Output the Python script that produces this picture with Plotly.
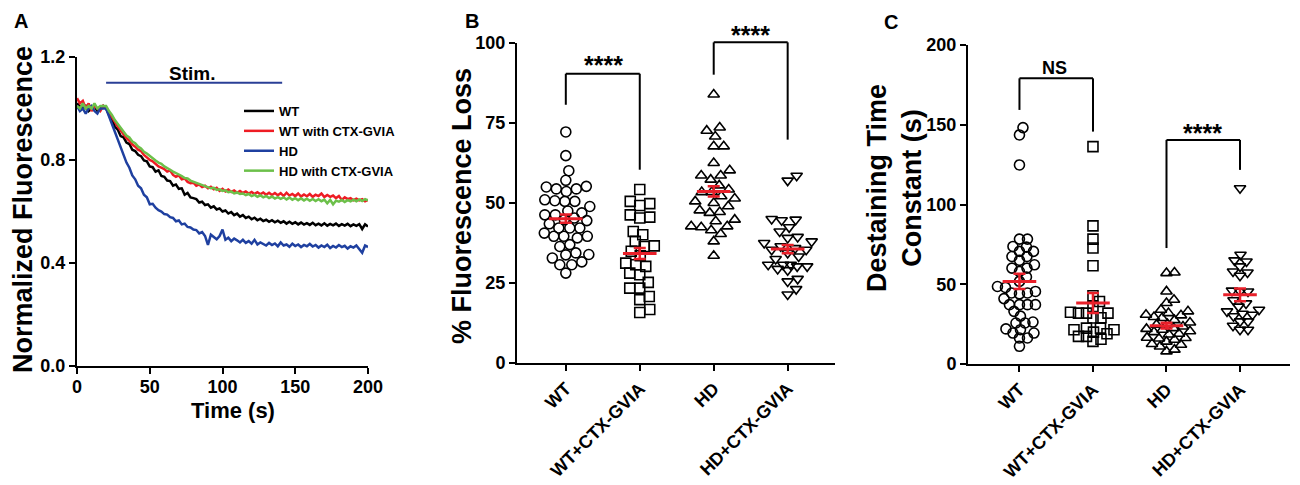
import numpy as np
import plotly.graph_objects as go

# page has an 8 px body margin, so the figure is drawn 8 px smaller each way
PAGE_OFF = 8
W, H = 1300 - PAGE_OFF, 485 - PAGE_OFF
FONT = "Liberation Sans, Arial, sans-serif"

# ---------------------------------------------------------------------------
# Panel A - normalized fluorescence, sampled every 2 s
time_s = list(range(0, 201, 2))

wt_trace = [1.02, 1.01, 1.00, 1.01, 0.99, 1.00, 1.01, 0.99, 1.00, 1.01, 1.00,
            0.975, 0.958, 0.93, 0.918, 0.893, 0.888, 0.868, 0.862, 0.84, 0.835,
            0.82, 0.815, 0.798, 0.795, 0.775, 0.772, 0.755, 0.76, 0.738, 0.735,
            0.72, 0.718, 0.70, 0.705, 0.688, 0.69, 0.665, 0.672, 0.655, 0.652,
            0.648, 0.635, 0.638, 0.625, 0.628, 0.615, 0.62, 0.608, 0.612, 0.60,
            0.604, 0.592, 0.598, 0.586, 0.592, 0.58, 0.586, 0.575, 0.58, 0.57,
            0.576, 0.566, 0.572, 0.563, 0.568, 0.56, 0.566, 0.558, 0.564, 0.556,
            0.562, 0.553, 0.56, 0.552, 0.558, 0.55, 0.557, 0.549, 0.555, 0.548,
            0.556, 0.547, 0.553, 0.546, 0.554, 0.545, 0.552, 0.546, 0.553, 0.544,
            0.551, 0.545, 0.552, 0.543, 0.55, 0.544, 0.551, 0.532, 0.55, 0.542]

wt_ctx_trace = [1.04, 1.02, 1.03, 1.00, 1.02, 0.99, 1.01, 1.00, 0.99, 1.01, 1.00,
                0.985, 0.965, 0.945, 0.93, 0.915, 0.90, 0.885, 0.875, 0.86, 0.852,
                0.84, 0.835, 0.82, 0.81, 0.80, 0.795, 0.785, 0.775, 0.77, 0.765,
                0.755, 0.76, 0.742, 0.735, 0.74, 0.725, 0.728, 0.715, 0.71, 0.712,
                0.70, 0.705, 0.695, 0.70, 0.69, 0.696, 0.686, 0.692, 0.68, 0.688,
                0.678, 0.685, 0.676, 0.682, 0.673, 0.68, 0.672, 0.678, 0.67, 0.676,
                0.668, 0.675, 0.667, 0.674, 0.665, 0.673, 0.664, 0.672, 0.663, 0.671,
                0.66, 0.673, 0.662, 0.668, 0.66, 0.67, 0.658, 0.666, 0.659, 0.668,
                0.657, 0.665, 0.66, 0.67, 0.656, 0.664, 0.657, 0.662, 0.652, 0.66,
                0.645, 0.655, 0.648, 0.652, 0.644, 0.65, 0.643, 0.648, 0.64, 0.645]

hd_trace = [1.01, 0.99, 1.00, 0.98, 1.00, 1.01, 0.99, 0.98, 1.00, 1.00, 1.00,
            0.97, 0.94, 0.905, 0.875, 0.85, 0.815, 0.79, 0.77, 0.74, 0.725,
            0.70, 0.69, 0.665, 0.655, 0.628, 0.63, 0.615, 0.605, 0.60, 0.59,
            0.588, 0.578, 0.575, 0.562, 0.565, 0.55, 0.553, 0.54, 0.538, 0.53,
            0.528, 0.515, 0.52, 0.505, 0.47, 0.51, 0.50, 0.492, 0.505, 0.53,
            0.49, 0.498, 0.485, 0.495, 0.488, 0.48, 0.49, 0.478, 0.485, 0.475,
            0.49, 0.472, 0.48, 0.474, 0.468, 0.478, 0.47, 0.476, 0.465, 0.48,
            0.468, 0.472, 0.463, 0.475, 0.466, 0.472, 0.462, 0.47, 0.465, 0.474,
            0.464, 0.47, 0.46, 0.468, 0.462, 0.471, 0.458, 0.466, 0.46, 0.47,
            0.462, 0.467, 0.456, 0.465, 0.46, 0.468, 0.455, 0.44, 0.468, 0.462]

hd_ctx_trace = [1.01, 1.00, 1.02, 1.00, 1.01, 1.00, 1.02, 1.00, 1.01, 1.01, 1.01,
                0.99, 0.975, 0.955, 0.94, 0.925, 0.91, 0.895, 0.888, 0.872, 0.865,
                0.852, 0.845, 0.832, 0.825, 0.815, 0.805, 0.798, 0.79, 0.785, 0.775,
                0.77, 0.762, 0.755, 0.75, 0.742, 0.738, 0.73, 0.728, 0.72, 0.716,
                0.712, 0.706, 0.704, 0.698, 0.696, 0.69, 0.692, 0.684, 0.686, 0.68,
                0.682, 0.675, 0.678, 0.67, 0.674, 0.668, 0.67, 0.664, 0.668, 0.66,
                0.665, 0.657, 0.663, 0.655, 0.66, 0.652, 0.658, 0.65, 0.656, 0.649,
                0.655, 0.647, 0.654, 0.646, 0.652, 0.644, 0.651, 0.643, 0.65, 0.642,
                0.649, 0.641, 0.648, 0.64, 0.646, 0.632, 0.645, 0.628, 0.642, 0.638,
                0.645, 0.637, 0.644, 0.639, 0.646, 0.64, 0.647, 0.641, 0.648, 0.643]

trace_names = ["WT", "WT with CTX-GVIA", "HD", "HD with CTX-GVIA"]
trace_colors = ["#000000", "#ee1c24", "#1f40a0", "#6cc04a"]

# ---------------------------------------------------------------------------
# Panel B - % fluorescence loss
groups = ["WT", "WT+CTX-GVIA", "HD", "HD+CTX-GVIA"]

loss_wt = [72.2, 64.8, 60.1, 57.1, 55.2, 54.4, 53.6, 54.4, 55.0, 51.0, 50.5, 50.5,
           50.7, 48.9, 45.3, 46.3, 46.3, 44.8, 46.9, 42.2, 42.2, 42.2, 40.6, 39.6,
           39.6, 39.1, 39.6, 37.0, 36.4, 34.4, 33.8, 33.9, 32.8, 30.7, 30.7, 31.6,
           28.1, 44.5, 47.5, 43.5]
loss_wt_ctx = [54.2, 50.5, 49.2, 45.3, 46.3, 45.6, 41.1, 40.1, 38.0, 36.6, 33.5,
               34.9, 36.4, 31.2, 30.7, 30.2, 28.1, 27.6, 25.2, 23.4, 23.4, 20.8,
               19.8, 15.8, 16.7, 49.8]
loss_hd = [83.9, 70.8, 73.6, 72.6, 67.7, 67.7, 62.5, 58.6, 60.2, 58.6, 57.3, 53.4,
           54.2, 53.4, 52.1, 51.4, 50.5, 50.0, 47.2, 46.9, 47.7, 44.8, 44.3, 42.7,
           42.4, 42.7, 41.5, 40.3, 38.0, 33.5, 55.5, 49.0]
loss_hd_ctx = [58.5, 57.0, 45.0, 44.6, 44.8, 41.1, 42.4, 39.1, 39.4, 38.0, 37.5,
               35.4, 35.4, 35.9, 34.4, 33.3, 30.7, 30.2, 30.7, 30.2, 30.7, 29.0,
               29.4, 25.5, 26.3, 23.1, 21.4, 36.5, 32.5]
loss_mean = [45.1, 34.2, 53.6, 35.6]
loss_sem = [1.3, 1.7, 1.6, 1.3]

# ---------------------------------------------------------------------------
# Panel C - destaining time constant (s)
tau_wt = [143.6, 148.2, 124.8, 78.3, 78.3, 73.3, 73.7, 70.6, 67.4, 67.4, 70.6,
          60.1, 62.2, 60.1, 54.5, 45.5, 44.5, 44.5, 48.6, 37.2, 37.2, 33.0, 37.2,
          37.2, 25.7, 25.7, 26.3, 19.4, 16.3, 21.5, 16.3, 19.4, 11.1, 51.8, 48.0,
          41.0, 58.0, 30.0, 22.0, 65.0, 44.0]
tau_wt_ctx = [136.3, 86.6, 78.3, 72.7, 61.6, 42.8, 39.2, 31.9, 31.9, 32.4, 28.8,
              31.9, 22.5, 21.5, 22.5, 21.5, 17.3, 17.3, 14.2, 36.0, 29.0, 19.0,
              15.5, 20.0]
tau_hd = [57.0, 57.4, 45.5, 40.3, 38.2, 31.9, 30.5, 30.9, 28.8, 27.5, 26.0, 24.6,
          25.0, 21.5, 20.5, 22.0, 22.5, 16.3, 15.2, 16.5, 16.0, 12.1, 12.5, 9.0,
          7.9, 34.0, 29.5, 19.0, 18.5, 23.5, 14.0, 11.0, 33.0, 20.0]
tau_hd_ctx = [110.2, 68.5, 64.3, 65.0, 61.2, 58.0, 57.4, 55.3, 45.5, 46.0, 45.5,
              40.0, 34.0, 33.0, 30.9, 29.9, 26.7, 26.7, 21.5, 21.5, 36.0, 38.0,
              24.0, 31.5]
tau_mean = [51.8, 38.2, 24.0, 43.4]
tau_sem = [4.8, 6.3, 1.8, 4.0]

symbols = ["circle-open", "square-open", "triangle-up-open", "triangle-down-open"]

# ---------------------------------------------------------------------------
# layout geometry (page pixel boxes -> paper fractions)
def px_x(px):
    return (px - PAGE_OFF) / W

def px_y(py):
    return 1 - (py - PAGE_OFF) / H

DOM_A = ([px_x(77), px_x(368)], [px_y(366), px_y(57)])
DOM_B = ([px_x(517), px_x(835)], [px_y(363), px_y(43)])
DOM_C = ([px_x(968), px_x(1290)], [px_y(364), px_y(45)])
RANGE_B = ([-0.66, 3.64], [0, 100])
RANGE_C = ([-0.70, 3.68], [0, 200])


def to_paper(v, rng, dom):
    return dom[0] + (v - rng[0]) / (rng[1] - rng[0]) * (dom[1] - dom[0])


def swarm(values, unit_px, cat_px, diam, max_px=24):
    # beeswarm-ish spread; once the row is full, points are allowed to overlap
    order = np.argsort(values)
    placed = []
    offs = np.zeros(len(values))
    cands = [0.0]
    for k in range(1, int(max_px * 2) + 1):
        cands += [k * 0.5, -k * 0.5]
    for i in order:
        y = values[i] * unit_px
        best, best_d = 0.0, -1.0
        for c in cands:
            d = min([((c - px) ** 2 + (y - py) ** 2) ** 0.5 for px, py in placed] or [99.0])
            if d >= diam:
                best = c
                break
            if d > best_d:
                best, best_d = c, d
        placed.append((best, y))
        offs[i] = best / cat_px
    return offs


def px_per(rng, dom, size):
    return (dom[1] - dom[0]) * size / (rng[1] - rng[0])


fig = go.Figure()

# panel A traces
for name, color, vals in zip(trace_names, trace_colors,
                             [wt_trace, wt_ctx_trace, hd_trace, hd_ctx_trace]):
    fig.add_trace(go.Scatter(x=time_s, y=vals, mode="lines", name=name,
                             line=dict(color=color, width=2.5),
                             xaxis="x", yaxis="y"))

# panels B and C scatter
for axn, sets, means, sems, rng, dom, diam in [
        ("2", [loss_wt, loss_wt_ctx, loss_hd, loss_hd_ctx], loss_mean, loss_sem, RANGE_B, DOM_B, 10.0),
        ("3", [tau_wt, tau_wt_ctx, tau_hd, tau_hd_ctx], tau_mean, tau_sem, RANGE_C, DOM_C, 8.0)]:
    unit_px = px_per(rng[1], dom[1], H)
    cat_px = px_per(rng[0], dom[0], W)
    for gi, vals in enumerate(sets):
        offs = swarm(np.array(vals), unit_px, cat_px, diam)
        fig.add_trace(go.Scatter(
            x=gi + offs, y=vals, mode="markers", showlegend=False,
            marker=dict(symbol=symbols[gi], size=10, color="black",
                        line=dict(color="black", width=1.6)),
            xaxis="x" + axn, yaxis="y" + axn))
    fig.add_trace(go.Scatter(
        x=list(range(4)), y=means, mode="markers", showlegend=False,
        marker=dict(symbol="line-ew", size=24, color="#e8202a",
                    line=dict(color="#e8202a", width=3)),
        error_y=dict(type="data", array=sems, color="#e8202a", thickness=2.5, width=6),
        xaxis="x" + axn, yaxis="y" + axn))

axis_common = dict(showline=True, linecolor="black", linewidth=2, ticks="outside",
                   ticklen=6, tickwidth=2, tickcolor="black", showgrid=False,
                   zeroline=False, automargin=False,
                   tickfont=dict(family=FONT, size=18, color="black", weight="bold"))

shapes = []
annotations = []

# Stim. bar
shapes.append(dict(type="line", xref="x", yref="y", x0=20, x1=141, y0=1.10, y1=1.10,
                   line=dict(color="#2a3f96", width=2)))


def bracket(x0, x1, yl, yr, ytop, rng, dom):
    xs = [to_paper(x, rng[0], dom[0]) for x in (x0, x1)]
    yl_p, yr_p, yt_p = [to_paper(v, rng[1], dom[1]) for v in (yl, yr, ytop)]
    ln = dict(color="black", width=2)
    return [dict(type="line", xref="paper", yref="paper", x0=xs[0], x1=xs[0], y0=yl_p, y1=yt_p, line=ln),
            dict(type="line", xref="paper", yref="paper", x0=xs[0], x1=xs[1], y0=yt_p, y1=yt_p, line=ln),
            dict(type="line", xref="paper", yref="paper", x0=xs[1], x1=xs[1], y0=yr_p, y1=yt_p, line=ln)]


shapes += bracket(0, 1, 80.7, 60.4, 90.4, RANGE_B, DOM_B)
shapes += bracket(2, 3, 90.1, 69.8, 100.2, RANGE_B, DOM_B)
shapes += bracket(0, 1, 159.3, 145.7, 179.1, RANGE_C, DOM_C)
shapes += bracket(2, 3, 72.7, 121.7, 140.5, RANGE_C, DOM_C)


def text(s, x, y, size, angle=0, xanchor="center", yanchor="middle"):
    annotations.append(dict(text=s, x=px_x(x), y=px_y(y), xref="paper", yref="paper",
                            showarrow=False, textangle=angle, xanchor=xanchor, yanchor=yanchor,
                            font=dict(family=FONT, size=size, color="black", weight="bold")))


# panel letters, anchored inside the figure so they are not clipped
text("A", 12, 8, 20, xanchor="left", yanchor="top")
text("B", 463, 8, 20, xanchor="left", yanchor="top")
text("C", 882, 9, 20, xanchor="left", yanchor="top")
text("Stim.", 192, 73, 19)
text("Normalized Fluorescence", 23, 210, 27, -90)
text("Time (s)", 233, 410, 22)
text("% Fluorescence Loss", 462, 206, 27, -90)
text("Destaining Time<br>Constant (s)", 894, 188, 27, -90)
text("****", 603, 65, 25)
text("****", 750, 35, 25)
text("NS", 1054, 68, 18)
text("****", 1202, 133, 25)

fig.update_layout(
    template="none",
    width=W, height=H, margin=dict(l=0, r=0, t=0, b=0, autoexpand=False),
    paper_bgcolor="white", plot_bgcolor="white",
    font=dict(family=FONT, color="black"),
    xaxis=dict(axis_common, domain=DOM_A[0], range=[0, 200], tickvals=[0, 50, 100, 150, 200],
               ticklabelstandoff=-3, anchor="y"),
    yaxis=dict(axis_common, domain=DOM_A[1], range=[0, 1.2], tickvals=[0, 0.4, 0.8, 1.2],
               tickformat=".1f", anchor="x"),
    xaxis2=dict(axis_common, domain=DOM_B[0], range=RANGE_B[0], tickvals=[0, 1, 2, 3],
                ticktext=groups, tickangle=-45, anchor="y2"),
    yaxis2=dict(axis_common, domain=DOM_B[1], range=RANGE_B[1], tickvals=[0, 25, 50, 75, 100], anchor="x2"),
    xaxis3=dict(axis_common, domain=DOM_C[0], range=RANGE_C[0], tickvals=[0, 1, 2, 3],
                ticktext=groups, tickangle=-45, anchor="y3"),
    yaxis3=dict(axis_common, domain=DOM_C[1], range=RANGE_C[1], tickvals=[0, 50, 100, 150, 200], anchor="x3"),
    legend=dict(x=px_x(239), y=px_y(96), xanchor="left", yanchor="top",
                font=dict(family=FONT, size=13, color="black", weight="bold"),
                bgcolor="rgba(0,0,0,0)", borderwidth=0, tracegroupgap=0),
    shapes=shapes, annotations=annotations,
)

fig.write_html("out.html")
